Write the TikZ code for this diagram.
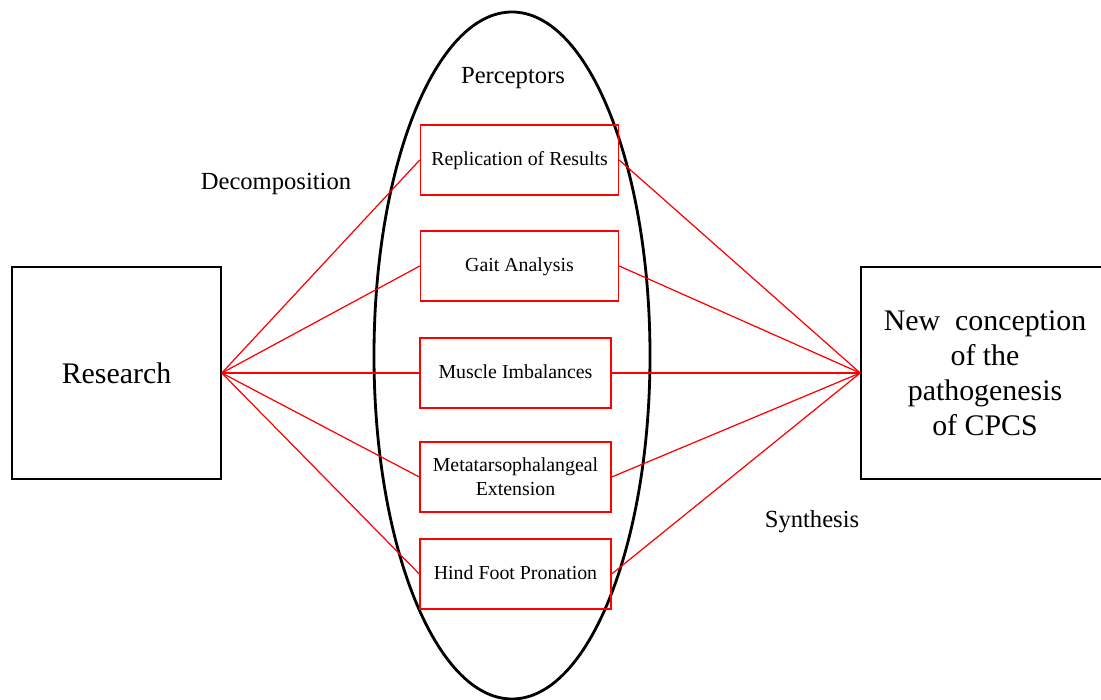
\documentclass[tikz,border=0pt]{standalone}
\usepackage{fontspec}
\setmainfont{Liberation Serif}
\usepackage{tikz}

\begin{document}
\begin{tikzpicture}[
    bigbox/.style={draw=black, line width=0.9pt, minimum width=#1, minimum height=4.24cm, align=center, font=\fontsize{17}{20}\selectfont},
    perceptor/.style={draw=red, line width=0.8pt, minimum width=#1, minimum height=1.4cm, align=center, font=\fontsize{11.3}{13.5}\selectfont},
    link/.style={red, line width=0.7pt},
    caption/.style={font=\fontsize{14}{16}\selectfont}
  ]
  \useasboundingbox (0,0) rectangle (22.02,14);
  \clip (0,0) rectangle (22.02,14);

  % Ellipse of perceptors
  \draw [line width=1.6pt] (10.24,6.89) ellipse (2.76 and 6.87);
  \node [caption] (perc) at (10.26,12.44) {Perceptors};

  % Left and right boxes
  \node [bigbox=4.18cm] (research) at (2.33,6.54) {Research};
  \node [bigbox=4.96cm] (concept) at (19.7,6.54) {New\ \ conception\\of the\\pathogenesis\\ of CPCS};

  % Perceptor boxes
  \node [perceptor=3.96cm, text depth=0.3ex] (repl) at (10.39,10.8) {Replication of Results};
  \node [perceptor=3.96cm, text depth=0.3ex] (gait) at (10.39,8.68) {Gait Analysis};
  \node [perceptor=3.82cm, text depth=0.3ex] (muscle) at (10.31,6.54) {Muscle Imbalances};
  \node [perceptor=3.82cm] (meta) at (10.31,4.46) {Metatarsophalangeal\\Extension};
  \node [perceptor=3.82cm, text depth=0.3ex] (hind) at (10.31,2.52) {Hind Foot Pronation};

  % Captions
  \node [caption] (decomp) at (5.52,10.32) {Decomposition};
  \node [caption] (synth) at (16.24,3.56) {Synthesis};

  % Decomposition lines
  \draw [link] (research.east) -- (repl.west);
  \draw [link] (research.east) -- (gait.west);
  \draw [link] (research.east) -- (muscle.west);
  \draw [link] (research.east) -- (meta.west);
  \draw [link] (research.east) -- (hind.west);

  % Synthesis lines
  \draw [link] (repl.east) -- (concept.west);
  \draw [link] (gait.east) -- (concept.west);
  \draw [link] (muscle.east) -- (concept.west);
  \draw [link] (meta.east) -- (concept.west);
  \draw [link] (hind.east) -- (concept.west);
\end{tikzpicture}
\end{document}
